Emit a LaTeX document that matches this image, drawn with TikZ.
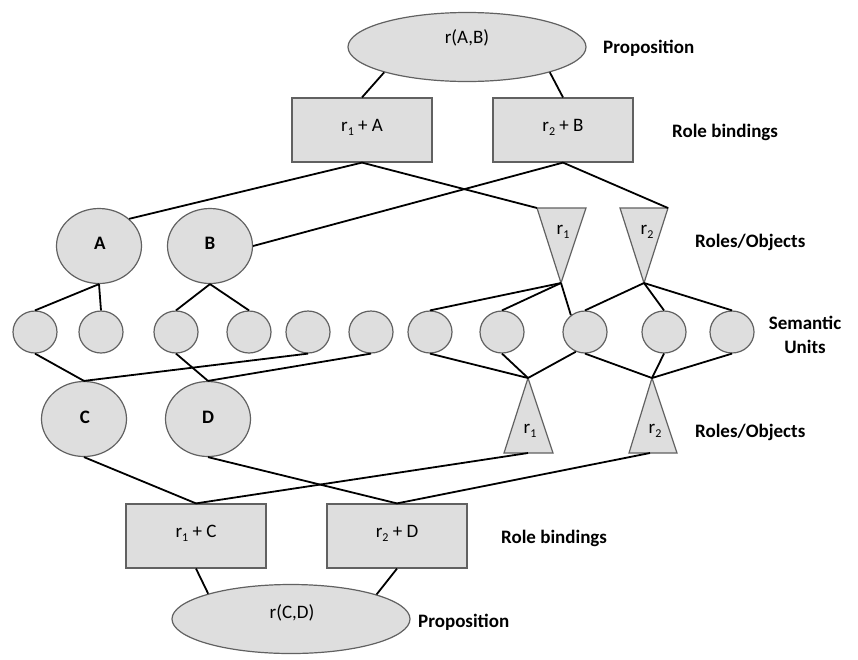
\documentclass[tikz,border=0pt]{standalone}
\usepackage{fontspec}
\setmainfont{Carlito}
\usetikzlibrary{shapes.geometric}
\newcommand\rsub[1]{\raisebox{-0.45ex}{\fontsize{12}{12}\selectfont #1}}
\begin{document}
\begin{tikzpicture}[x=1pt,y=-1pt,
  shapebase/.style={draw=black!62, fill=black!13, line width=1.2pt, inner sep=0pt},
  unit/.style={shapebase, ellipse, minimum width=44pt, minimum height=42pt},
  obj/.style={shapebase, ellipse, minimum width=85pt, minimum height=75pt},
  prop/.style={shapebase, ellipse, minimum width=238pt, minimum height=69pt},
  bind/.style={shapebase, rectangle, minimum width=140pt, minimum height=64pt},
  tri/.style={draw=black!62, fill=black!13, line width=1.2pt, line join=miter},
  lbl/.style={font=\fontsize{19}{22}\selectfont\bfseries, anchor=west, inner sep=0pt},
  txt/.style={font=\fontsize{19}{22}\selectfont, inner sep=0pt},
  btxt/.style={font=\fontsize{19}{22}\selectfont\bfseries, inner sep=0pt},
  link/.style={line width=1.8pt, black}
]
\useasboundingbox (0,0) rectangle (858,659);

% propositions
\node[prop] (p1) at (467,47) {};
\node[txt] (p1t) at (467,38) {r(A,B)};
\node[prop] (p2) at (291,619) {};
\node[txt] (p2t) at (292,613) {r(C,D)};

% role bindings
\node[bind] (rA) at (362,130) {};
\node[txt] (rAt) at (362,127) {r\rsub{1} + A};
\node[bind] (rB) at (563,130) {};
\node[txt] (rBt) at (563,127) {r\rsub{2} + B};
\node[bind] (rC) at (196,536) {};
\node[txt] (rCt) at (196,533) {r\rsub{1} + C};
\node[bind] (rD) at (397,536) {};
\node[txt] (rDt) at (397,533) {r\rsub{2} + D};

% objects
\node[obj] (A) at (99,246) {};
\node[btxt] (At) at (100,243) {A};
\node[obj] (B) at (210,246) {};
\node[btxt] (Bt) at (210,243) {B};
\node[obj] (C) at (84,419) {};
\node[btxt] (Ct) at (85,417) {C};
\node[obj] (D) at (208,419) {};
\node[btxt] (Dt) at (208,417) {D};

% semantic units
\foreach \i/\x in {1/35,2/101,3/176,4/249,5/308,6/371,7/430,8/502,9/585,10/664,11/732}
  \node[unit] (s\i) at (\x,332) {};

% role triangles (top, inverted)
\coordinate (t1l) at (537,208); \coordinate (t1r) at (586,208); \coordinate (t1a) at (561,283);
\coordinate (t2l) at (620,208); \coordinate (t2r) at (668,208); \coordinate (t2a) at (644,283);
\filldraw[tri] (t1l) -- (t1r) -- (t1a) -- cycle;
\filldraw[tri] (t2l) -- (t2r) -- (t2a) -- cycle;
\node[txt] (t1t) at (563,232) {r\rsub{1}};
\node[txt] (t2t) at (647,232) {r\rsub{2}};

% role triangles (bottom, upright)
\coordinate (t3a) at (528,378); \coordinate (t3l) at (504,453); \coordinate (t3r) at (553,453);
\coordinate (t4a) at (652,378); \coordinate (t4l) at (629,453); \coordinate (t4r) at (677,453);
\coordinate (t3m) at (528,453); \coordinate (t4m) at (650,453);
\filldraw[tri] (t3a) -- (t3r) -- (t3l) -- cycle;
\filldraw[tri] (t4a) -- (t4r) -- (t4l) -- cycle;
\node[txt] (t3t) at (530,431) {r\rsub{1}};
\node[txt] (t4t) at (655,431) {r\rsub{2}};

% connectors
\draw[link] (rA.north) -- (p1.-163);
\draw[link] (rB.north) -- (p1.-17);
\draw[link] (rA.south) -- (A.42);
\draw[link] (rA.south) -- (t1l);
\draw[link] (rB.south) -- (B.east);
\draw[link] (rB.south) -- (t2r);
\draw[link] (A.south) -- (s1.north);
\draw[link] (A.south) -- (s2.north);
\draw[link] (B.south) -- (s3.north);
\draw[link] (B.south) -- (s4.north);
\draw[link] (t1a) -- (s7.north);
\draw[link] (t1a) -- (s8.north);
\draw[link] (t1a) -- (s9.130);
\draw[link] (t2a) -- (s9.north);
\draw[link] (t2a) -- (s10.north);
\draw[link] (t2a) -- (s11.north);
\draw[link] (s1.south) -- (C.north);
\draw[link] (s5.south) -- (C.north);
\draw[link] (s3.south) -- (D.north);
\draw[link] (s6.south) -- (D.north);
\draw[link] (s7.south) -- (t3a);
\draw[link] (s8.south) -- (t3a);
\draw[link] (s9.-115) -- (t3a);
\draw[link] (s9.south) -- (t4a);
\draw[link] (s10.south) -- (t4a);
\draw[link] (s11.south) -- (t4a);
\draw[link] (C.south) -- (rC.north);
\draw[link] (t3m) -- (rC.north);
\draw[link] (D.south) -- (rD.north);
\draw[link] (t4m) -- (rD.north);
\draw[link] (rC.south) -- (p2.163);
\draw[link] (rD.south) -- (p2.16);

% level labels
\node[lbl] (L1) at (603,48) {Proposition};
\node[lbl] (L2) at (672,132) {Role bindings};
\node[lbl] (L3) at (695,242) {Roles/Objects};
\node[lbl, anchor=center, align=center, font=\fontsize{19}{24}\selectfont\bfseries] (L4) at (805,335) {Semantic\\Units};
\node[lbl] (L5) at (695,432) {Roles/Objects};
\node[lbl] (L6) at (501,538) {Role bindings};
\node[lbl] (L7) at (418,622) {Proposition};
\end{tikzpicture}
\end{document}
